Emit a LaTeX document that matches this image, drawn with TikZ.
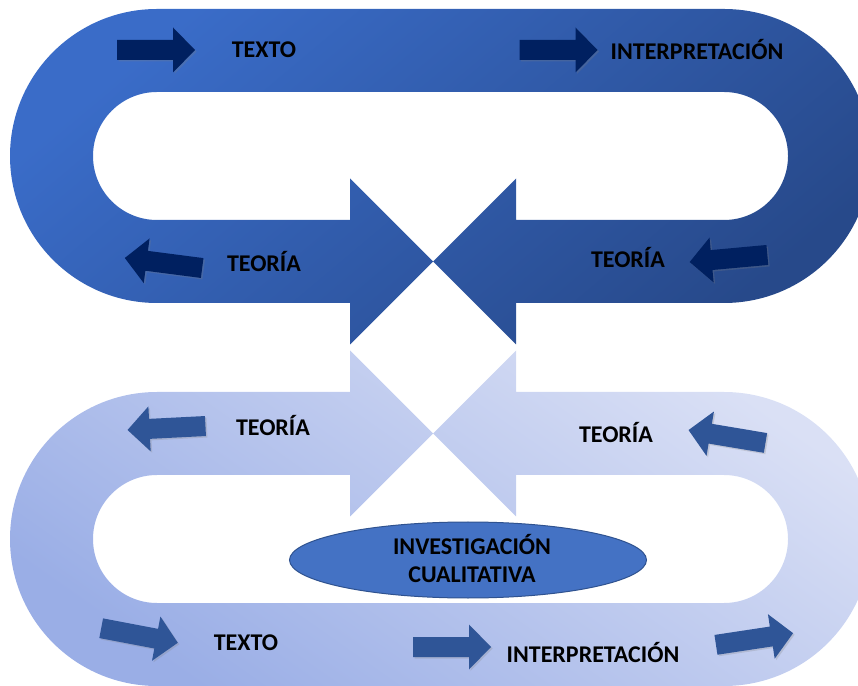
\documentclass[tikz,border=0pt]{standalone}
\usepackage{fontspec}
\setmainfont{Carlito}
\usetikzlibrary{shapes.geometric,shadows}
\definecolor{darkA}{HTML}{3A6CC8}
\definecolor{darkB}{HTML}{27498A}
\definecolor{lightA}{HTML}{DAE0F5}
\definecolor{lightB}{HTML}{9AAEE6}
\definecolor{navy}{HTML}{002060}
\definecolor{midblue}{HTML}{2F5597}
\definecolor{ellfill}{HTML}{4472C4}
\definecolor{elldraw}{HTML}{2F528F}
\tikzset{
  lbl/.style={font=\fontsize{24}{28}\selectfont\bfseries, text=black, inner sep=0pt, align=center},
  blockarrow/.pic={\fill[pic actions, drop shadow={opacity=0.25, shadow xshift=1.5pt, shadow yshift=-1.5pt}] (-39,-10) -- (17,-10) -- (17,-22.5) -- (39,0) -- (17,22.5) -- (17,10) -- (-39,10) -- cycle;}
}
\begin{document}
\begin{tikzpicture}[x=1pt,y=1pt]
\useasboundingbox (0,0) rectangle (858,685);
\clip (0,0) rectangle (858,685);
% top loop
\shade[top color=darkA, bottom color=darkB, shading angle=40]
  (350,382) -- (157,382) arc[start angle=270, end angle=90, radius=147]
  -- (724,676) arc[start angle=90, end angle=-90, radius=147]
  -- (516,382) -- (516,340.5) -- (433,423.5) -- (516,506.5) -- (516,465)
  -- (724,465) arc[start angle=-90, end angle=90, radius=64]
  -- (157,593) arc[start angle=90, end angle=270, radius=64]
  -- (350,465) -- (350,506.5) -- (433,423.5) -- (350,340.5) -- cycle;
% bottom loop
\shade[top color=lightA, bottom color=lightB, shading angle=-35]
  (350,293) -- (157,293) arc[start angle=90, end angle=270, radius=147]
  -- (724,-1) arc[start angle=-90, end angle=90, radius=147]
  -- (516,293) -- (516,334.5) -- (433,251.5) -- (516,168.5) -- (516,210)
  -- (724,210) arc[start angle=90, end angle=-90, radius=64]
  -- (157,82) arc[start angle=270, end angle=90, radius=64]
  -- (350,210) -- (350,168.5) -- (433,251.5) -- (350,334.5) -- cycle;
% small arrows, top
\pic[fill=navy] at (156,635) {blockarrow};
\pic[fill=navy] at (558.5,635) {blockarrow};
\pic[fill=navy, rotate=172.6] at (163.5,422) {blockarrow};
\pic[fill=navy, rotate=185.2] at (728.5,426.5) {blockarrow};
% small arrows, bottom
\pic[fill=midblue, rotate=182.9] at (166.5,257) {blockarrow};
\pic[fill=midblue, rotate=170.5] at (727,248.5) {blockarrow};
\pic[fill=midblue, rotate=-10.75] at (139.5,49.5) {blockarrow};
\pic[fill=midblue] at (452,38) {blockarrow};
\pic[fill=midblue, rotate=8.6] at (754.5,46) {blockarrow};
% labels
\node[lbl] (t1) at (264,635) {TEXTO};
\node[lbl] (i1) at (697,635) {INTERPRETACIÓN};
\node[lbl] (r1) at (264,423) {TEORÍA};
\node[lbl] (r2) at (628,427) {TEORÍA};
\node[lbl] (r3) at (273,259) {TEORÍA};
\node[lbl] (r4) at (616,252) {TEORÍA};
\node[lbl] (t2) at (246,42) {TEXTO};
\node[lbl] (i2) at (593,32) {INTERPRETACIÓN};
\node[ellipse, draw=elldraw, fill=ellfill, line width=1, minimum width=357, minimum height=76, inner sep=0pt] (inv) at (468,125) {};
\node[lbl] (invt) at (472,126.5) {INVESTIGACIÓN\\CUALITATIVA};
\end{tikzpicture}
\end{document}
